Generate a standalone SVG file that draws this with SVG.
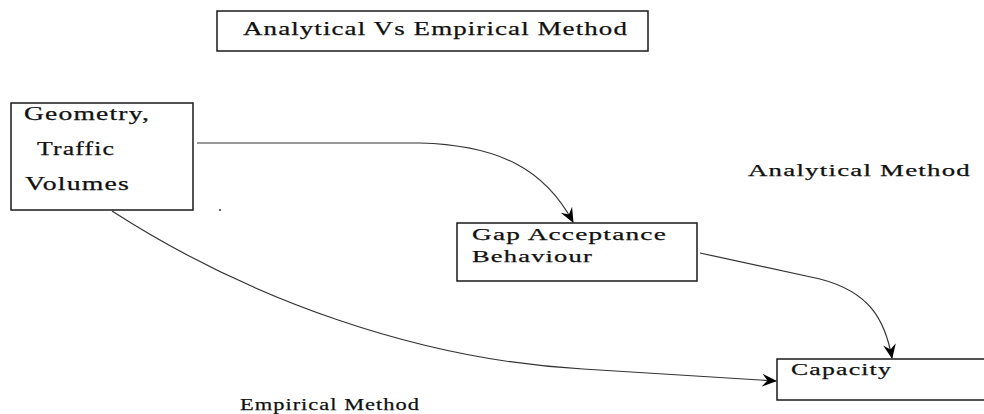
<svg xmlns="http://www.w3.org/2000/svg" width="984" height="414" viewBox="0 0 984 414">
<style>
.box{fill:#fff;stroke:#1a1a1a;stroke-width:1.5}
.t{font-family:"Liberation Serif","Times New Roman",serif;fill:#111;letter-spacing:0.8px;stroke:#111;stroke-width:0.25}
.conn{fill:none;stroke:#333;stroke-width:1.2}
</style>
<defs>
<marker id="arr" viewBox="0 0 14 14" refX="13" refY="7" markerWidth="15" markerHeight="15" markerUnits="userSpaceOnUse" orient="auto">
<path d="M0,1 L14,7 L0,13 L5,7 Z" fill="#000"/>
</marker>
</defs>
<rect width="984" height="414" fill="#fff"/>
<g id="connectors">
<path class="conn" d="M197,143 L420,143 C500,145 545,170 573,222" marker-end="url(#arr)"/>
<path class="conn" d="M700,253 L820,279 C870,292 885,320 892,358" marker-end="url(#arr)"/>
<path class="conn" d="M112,211 C250,300 420,360 583,369 L776,381" marker-end="url(#arr)"/>
</g>
<g id="title">
<rect class="box" x="217" y="11" width="431" height="40"/>
<text class="t" x="243" y="35" font-size="19.5" textLength="385" lengthAdjust="spacingAndGlyphs">Analytical Vs Empirical Method</text>
</g>
<g id="inputs">
<rect class="box" x="11" y="103" width="182" height="107"/>
<text class="t" x="24" y="120" font-size="18.5" textLength="126" lengthAdjust="spacingAndGlyphs">Geometry,</text>
<text class="t" x="37" y="155" font-size="18.5" textLength="78" lengthAdjust="spacingAndGlyphs">Traffic</text>
<text class="t" x="25" y="190" font-size="18.5" textLength="105" lengthAdjust="spacingAndGlyphs">Volumes</text>
</g>
<g id="gap">
<rect class="box" x="457" y="223" width="240" height="58"/>
<text class="t" x="472" y="240" font-size="17.5" textLength="195" lengthAdjust="spacingAndGlyphs">Gap Acceptance</text>
<text class="t" x="472" y="262" font-size="17.5" textLength="121" lengthAdjust="spacingAndGlyphs">Behaviour</text>
</g>
<g id="capacity">
<rect class="box" x="777" y="359" width="220" height="41"/>
<text class="t" x="791" y="375" font-size="17.5" textLength="101" lengthAdjust="spacingAndGlyphs">Capacity</text>
</g>
<g id="labels">
<text class="t" x="748" y="176" font-size="17.5" textLength="223" lengthAdjust="spacingAndGlyphs">Analytical Method</text>
<text class="t" x="240" y="410" font-size="17.5" textLength="180" lengthAdjust="spacingAndGlyphs">Empirical Method</text>
<rect x="219" y="209" width="2" height="2" fill="#666"/>
</g>
</svg>
